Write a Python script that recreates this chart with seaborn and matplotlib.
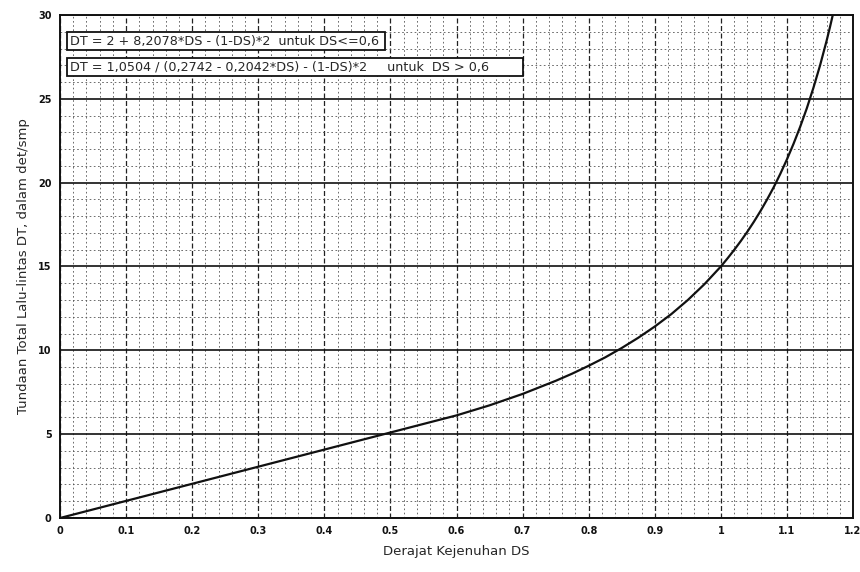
import numpy as np
import pandas as pd
import matplotlib
matplotlib.use('Agg')
import matplotlib.pyplot as plt
import seaborn as sns
from matplotlib.ticker import MultipleLocator

# Points (DS -> DT)
ds_values = [0.0, 0.1, 0.2, 0.3, 0.4, 0.5, 0.6, 0.65, 0.7, 0.75, 0.775, 0.8, 0.825, 0.85,
             0.875, 0.9, 0.925, 0.95, 0.975, 1.0, 1.01, 1.02, 1.03, 1.04, 1.05, 1.06, 1.07,
             1.08, 1.09, 1.1, 1.11, 1.12, 1.13, 1.14, 1.15, 1.16, 1.165, 1.17]
dt_values = [0.0, 1.02, 2.04, 3.06, 4.08, 5.10, 6.12, 6.72, 7.40, 8.18, 8.61, 9.08, 9.58, 10.14,
             10.75, 11.42, 12.16, 13.00, 13.94, 15.0, 15.48, 15.98, 16.51, 17.07, 17.67, 18.31, 19.00,
             19.73, 20.53, 21.39, 22.32, 23.33, 24.43, 25.65, 26.98, 28.46, 29.26, 30.11]

x_ticks = [0, 0.1, 0.2, 0.3, 0.4, 0.5, 0.6, 0.7, 0.8, 0.9, 1, 1.1, 1.2]
x_tick_labels = ['0', '0.1', '0.2', '0.3', '0.4', '0.5', '0.6', '0.7', '0.8', '0.9', '1', '1.1', '1.2']
y_ticks = [0, 5, 10, 15, 20, 25, 30]

eq_low = 'DT = 2 + 8,2078*DS - (1-DS)*2  untuk DS<=0,6 '
eq_high = 'DT = 1,0504 / (0,2742 - 0,2042*DS) - (1-DS)*2     untuk  DS > 0,6        '

df = pd.DataFrame({'DS': ds_values, 'DT': dt_values})

sns.set_style('white')
plt.rcParams['font.family'] = ['DejaVu Sans']

fig = plt.figure(figsize=(8.6, 5.72), dpi=100)
ax = fig.add_axes([0.0698, 0.0944, 0.9221, 0.8794])

# grid: fine dotted lines, heavier lines every 5 units
ax.xaxis.set_minor_locator(MultipleLocator(0.02))
ax.yaxis.set_minor_locator(MultipleLocator(1))
ax.grid(which='minor', axis='both', color='#555555', linestyle=(0, (2, 3)), linewidth=0.6)
ax.grid(which='major', axis='x', color='#222222', linestyle=(0, (4, 2)), linewidth=0.9)
ax.grid(which='major', axis='y', color='#111111', linestyle='-', linewidth=1.2)
ax.set_axisbelow(True)

sns.lineplot(data=df, x='DS', y='DT', ax=ax, color='#111111', linewidth=1.6)

ax.set_xlim(0, 1.2)
ax.set_ylim(0, 30)
ax.set_xticks(x_ticks)
ax.set_xticklabels(x_tick_labels)
ax.set_yticks(y_ticks)
ax.tick_params(axis='both', which='major', labelsize=7, length=5, width=1, direction='inout', colors='#111111')
ax.tick_params(axis='both', which='minor', length=3, width=0.8, direction='inout')
for lab in ax.get_xticklabels() + ax.get_yticklabels():
    lab.set_fontweight('bold')

for s in ax.spines.values():
    s.set_color('#111111')
    s.set_linewidth(1.4)

ax.set_xlabel('Derajat Kejenuhan DS', fontsize=9.5, labelpad=6)
ax.set_ylabel('Tundaan Total Lalu-lintas DT, dalam det/smp', fontsize=9.5, labelpad=6)

box = dict(boxstyle='square,pad=0.2', facecolor='white', edgecolor='#111111', linewidth=1.3)
ax.text(0.012, 0.948, eq_low, transform=ax.transAxes, fontsize=9.2, ha='left', va='center', bbox=box)
ax.text(0.012, 0.897, eq_high, transform=ax.transAxes, fontsize=9.2, ha='left', va='center', bbox=box)

fig.savefig('out.png', dpi=100)
